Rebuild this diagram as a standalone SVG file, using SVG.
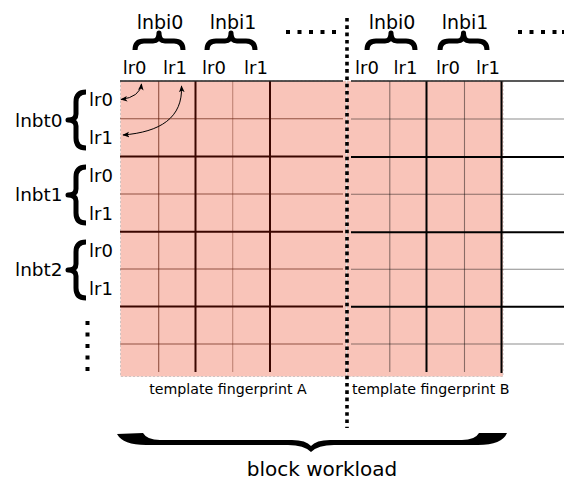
<svg xmlns="http://www.w3.org/2000/svg" width="564" height="482" viewBox="0 0 564 482">
  <style>
    text { font-family: "DejaVu Sans", "Liberation Sans", sans-serif; fill: #000; }
    .lr { font-size: 18px; }
    .lnbi { font-size: 19px; text-anchor: middle; }
    .lnbt { font-size: 18.5px; }
    .cap { font-size: 14.2px; text-anchor: middle; }
    .big { font-size: 20px; text-anchor: middle; }
    .pink { fill: #f9c4b9; stroke: #cfc4c2; stroke-width: 1; stroke-dasharray: 2 2; }
    .brace { fill: none; stroke: #000; stroke-width: 5; stroke-linejoin: round; }
    .dots { fill: #000; }
    .a-thick { stroke: #3a0600; stroke-width: 2; }
    .a-thin { stroke: #5a1200; stroke-width: 1.1; stroke-opacity: 0.65; }
    .a-faint { stroke: #6a2010; stroke-width: 1.1; stroke-opacity: 0.4; }
    .b-thick { stroke: #000; stroke-width: 2; }
    .b-thin { stroke: #000; stroke-width: 1.1; stroke-opacity: 0.45; }
    .edge { stroke: #222; stroke-width: 1.6; }
    .arrow { fill: none; stroke: #000; stroke-width: 1; marker-start: url(#head); marker-end: url(#head); }
  </style>
  <defs>
    <marker id="head" viewBox="0 0 10 10" refX="9" refY="5" markerWidth="7" markerHeight="7" markerUnits="userSpaceOnUse" orient="auto-start-reverse">
      <path d="M0,1 L10,5 L0,9 L2.5,5 Z" fill="#000"/>
    </marker>
  </defs>

  <!-- template fingerprint A -->
  <g id="fingerprint-a">
    <rect class="pink" x="120.5" y="81" width="225.5" height="295.5"/>
    <g class="a-thin">
      <line x1="120" y1="118.7" x2="343" y2="118.7"/>
      <line x1="120" y1="194" x2="343" y2="194"/>
      <line x1="120" y1="269" x2="343" y2="269"/>
      <line x1="120" y1="344" x2="343" y2="344"/>
      <line x1="158.7" y1="81" x2="158.7" y2="372"/>
    </g>
    <g class="a-faint">
      <line x1="232.7" y1="81" x2="232.7" y2="372"/>
    </g>
    <g class="a-thick">
      <line x1="120" y1="156.5" x2="343" y2="156.5"/>
      <line x1="120" y1="231.8" x2="343" y2="231.8"/>
      <line x1="120" y1="306.5" x2="343" y2="306.5"/>
      <line x1="195.5" y1="81" x2="195.5" y2="372"/>
      <line x1="270" y1="81" x2="270" y2="372"/>
    </g>
    <line class="edge" x1="120" y1="81" x2="343" y2="81"/>
    <text class="cap" x="228" y="394">template fingerprint A</text>
  </g>

  <!-- template fingerprint B -->
  <g id="fingerprint-b">
    <rect class="pink" x="347" y="81" width="156" height="295.5"/>
    <g class="b-thin">
      <line x1="351" y1="119" x2="564" y2="119"/>
      <line x1="351" y1="194.3" x2="564" y2="194.3"/>
      <line x1="351" y1="269.3" x2="564" y2="269.3"/>
      <line x1="351" y1="344" x2="564" y2="344"/>
      <line x1="389.8" y1="81" x2="389.8" y2="372"/>
      <line x1="464.5" y1="81" x2="464.5" y2="372"/>
    </g>
    <g class="b-thick">
      <line x1="351" y1="157" x2="564" y2="157"/>
      <line x1="351" y1="232.3" x2="564" y2="232.3"/>
      <line x1="351" y1="306.8" x2="564" y2="306.8"/>
      <line x1="426.5" y1="81" x2="426.5" y2="372"/>
      <line x1="501.5" y1="81" x2="501.5" y2="373"/>
    </g>
    <line class="edge" x1="351" y1="81" x2="564" y2="81" stroke="#000"/>
    <text class="cap" x="430.7" y="394">template fingerprint B</text>
  </g>

  <!-- dotted divider between the two templates -->
  <line id="divider" x1="347" y1="18" x2="347" y2="428" stroke="#000" stroke-width="3.6" stroke-dasharray="3.6 3.7"/>

  <!-- column labels -->
  <g id="columns-a">
    <text class="lnbi" x="160" y="29">lnbi0</text>
    <text class="lnbi" x="233" y="29">lnbi1</text>
    <path class="brace" d="M135,50 Q135,41 144,41 L153,41 Q159,41 159,33 Q159,41 165,41 L174,41 Q183,41 183,50"/>
    <path class="brace" d="M207,50 Q207,41 216,41 L225,41 Q231,41 231,33 Q231,41 237,41 L246,41 Q255,41 255,50"/>
    <text class="lr" x="122.7" y="74">lr0</text>
    <text class="lr" x="163" y="74">lr1</text>
    <text class="lr" x="202" y="74">lr0</text>
    <text class="lr" x="244" y="74">lr1</text>
    <g class="dots">
      <rect x="286" y="30" width="4" height="4"/>
      <rect x="297.5" y="30" width="4" height="4"/>
      <rect x="309" y="30" width="4" height="4"/>
      <rect x="320.5" y="30" width="4" height="4"/>
      <rect x="332" y="30" width="4" height="4"/>
    </g>
  </g>
  <g id="columns-b">
    <text class="lnbi" x="392" y="29">lnbi0</text>
    <text class="lnbi" x="465" y="29">lnbi1</text>
    <path class="brace" d="M367,50 Q367,41 376,41 L385,41 Q391,41 391,33 Q391,41 397,41 L406,41 Q415,41 415,50"/>
    <path class="brace" d="M440,50 Q440,41 449,41 L457.5,41 Q463.5,41 463.5,33 Q463.5,41 469.5,41 L478,41 Q487,41 487,50"/>
    <text class="lr" x="355" y="74">lr0</text>
    <text class="lr" x="393.5" y="74">lr1</text>
    <text class="lr" x="436" y="74">lr0</text>
    <text class="lr" x="476" y="74">lr1</text>
    <g class="dots">
      <rect x="518" y="30" width="4" height="4"/>
      <rect x="529.5" y="30" width="4" height="4"/>
      <rect x="541" y="30" width="4" height="4"/>
      <rect x="552.5" y="30" width="4" height="4"/>
      <rect x="562" y="30" width="4" height="4"/>
    </g>
  </g>

  <!-- row labels -->
  <g id="rows-0">
    <text class="lnbt" x="15" y="127">lnbt0</text>
    <path class="brace" d="M86,92 Q76,92 76,102 L76,114 Q76,120 68,120 Q76,120 76,126 L76,138 Q76,148 86,148"/>
    <text class="lr" x="89" y="106">lr0</text>
    <text class="lr" x="89" y="144">lr1</text>
  </g>
  <g id="rows-1">
    <text class="lnbt" x="15" y="201">lnbt1</text>
    <path class="brace" d="M86,167 Q76,167 76,177 L76,189 Q76,195 68,195 Q76,195 76,201 L76,213 Q76,223 86,223"/>
    <text class="lr" x="89" y="182">lr0</text>
    <text class="lr" x="89" y="220">lr1</text>
  </g>
  <g id="rows-2">
    <text class="lnbt" x="15" y="276">lnbt2</text>
    <path class="brace" d="M86,242 Q76,242 76,252 L76,264 Q76,270 68,270 Q76,270 76,276 L76,288 Q76,298 86,298"/>
    <text class="lr" x="89" y="257">lr0</text>
    <text class="lr" x="89" y="295">lr1</text>
  </g>
  <g id="rows-more" class="dots">
    <rect x="85.5" y="321" width="4" height="4"/>
    <rect x="85.5" y="332.5" width="4" height="4"/>
    <rect x="85.5" y="344" width="4" height="4"/>
    <rect x="85.5" y="355.5" width="4" height="4"/>
    <rect x="85.5" y="367" width="4" height="4"/>
  </g>

  <!-- index mapping arrows -->
  <g id="connectors">
    <path class="arrow" d="M121,99.5 Q140,97 141.5,84"/>
    <path class="arrow" d="M123,135 C160,132 183,118 181.5,86"/>
  </g>

  <!-- block workload -->
  <g id="block-workload">
    <path fill="#000" d="M117,434 L143,433 Q147,440 160,440 L292,440 Q306,440 311,446 Q316,440 330,440 L462,440 Q475,440 479,433 L507,433 Q502,445 478,445 L334,445 Q318,445 311,452 Q304,445 288,445 L146,445 Q123,445 117,434 Z"/>
    <text class="big" x="322" y="476">block workload</text>
  </g>
</svg>
